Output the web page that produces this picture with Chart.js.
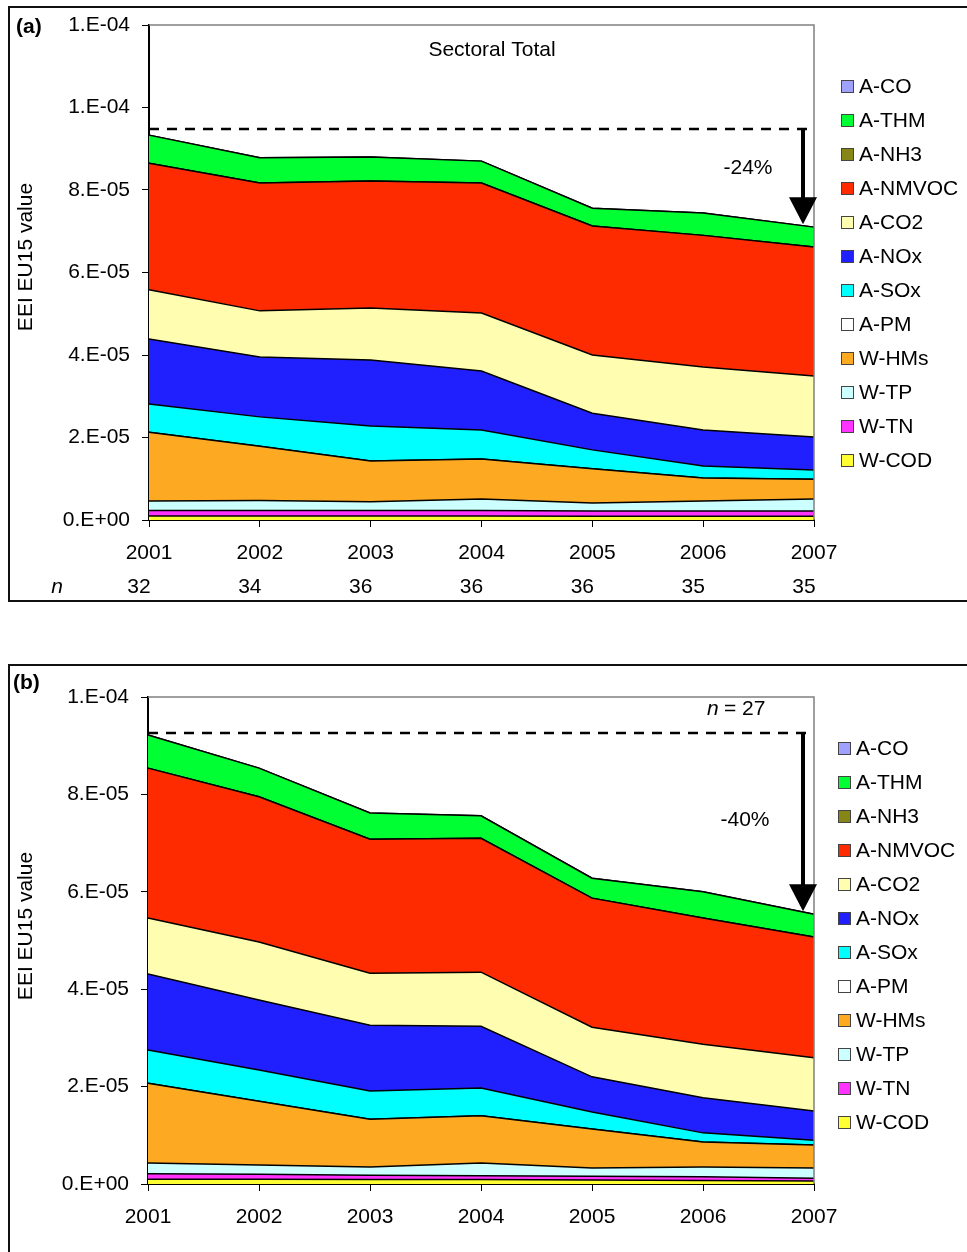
<!DOCTYPE html>
<html>
<head>
<meta charset="utf-8">
<title>EEI EU15 value by sector</title>
<script src="https://cdn.jsdelivr.net/npm/chart.js@4.4.1/dist/chart.umd.min.js"></script>
<style>
  html, body { margin: 0; padding: 0; background: #fff; }
  body { width: 967px; height: 1252px; position: relative; overflow: hidden; }
  .frame { position: absolute; left: 8px; width: 990px; box-sizing: border-box; border: 2px solid #111; border-right: none; }
  #frameA { top: 6px; height: 596px; }
  #frameB { top: 664px; height: 620px; border-bottom: none; }
  canvas { position: absolute; left: 0; }
  #chartA { top: 0; }
  #chartB { top: 640px; }
</style>
</head>
<body>
<div class="frame" id="frameA"></div>
<div class="frame" id="frameB"></div>
<canvas id="chartA" width="967" height="610"></canvas>
<canvas id="chartB" width="967" height="612"></canvas>
<script>
// ---- categories and series ----
const years = ['2001', '2002', '2003', '2004', '2005', '2006', '2007'];
const seriesNames = ['W-COD', 'W-TN', 'W-TP', 'W-HMs', 'A-PM', 'A-SOx', 'A-NOx', 'A-CO2', 'A-NMVOC', 'A-NH3', 'A-THM', 'A-CO'];
const seriesColors = ['#FFFF33', '#FF33FF', '#CCFFFF', '#FDA922', '#FFFFFF', '#00FFFF', '#2020FF', '#FFFDB0', '#FF2B00', '#868616', '#00FF33', '#A0A0FF'];

// number of installations per year, panel (a)
const sampleSizeA = [32, 34, 36, 36, 36, 35, 35];
const sampleSizeB = 27;

// Panel (a): sectoral total
const wCodA   = [0.10e-5, 0.10e-5, 0.10e-5, 0.10e-5, 0.09e-5, 0.09e-5, 0.09e-5];
const wTnA    = [0.13e-5, 0.13e-5, 0.13e-5, 0.13e-5, 0.13e-5, 0.13e-5, 0.13e-5];
const wTpA    = [0.23e-5, 0.24e-5, 0.21e-5, 0.28e-5, 0.19e-5, 0.24e-5, 0.29e-5];
const wHmsA   = [1.67e-5, 1.32e-5, 0.99e-5, 0.97e-5, 0.83e-5, 0.56e-5, 0.48e-5];
const aPmA    = [0, 0, 0, 0, 0, 0, 0];
const aSoxA   = [0.68e-5, 0.71e-5, 0.85e-5, 0.70e-5, 0.46e-5, 0.29e-5, 0.22e-5];
const aNoxA   = [1.58e-5, 1.45e-5, 1.60e-5, 1.43e-5, 0.89e-5, 0.87e-5, 0.80e-5];
const aCo2A   = [1.19e-5, 1.12e-5, 1.26e-5, 1.41e-5, 1.41e-5, 1.53e-5, 1.48e-5];
const aNmvocA = [3.07e-5, 3.10e-5, 3.08e-5, 3.15e-5, 3.13e-5, 3.19e-5, 3.13e-5];
const aNh3A   = [0, 0, 0, 0, 0, 0, 0];
const aThmA   = [0.68e-5, 0.61e-5, 0.58e-5, 0.53e-5, 0.43e-5, 0.54e-5, 0.48e-5];
const aCoA    = [0, 0, 0, 0, 0, 0, 0];

// Panel (b): constant sample of 27
const wCodB   = [0.10e-5, 0.10e-5, 0.09e-5, 0.09e-5, 0.08e-5, 0.07e-5, 0.06e-5];
const wTnB    = [0.11e-5, 0.10e-5, 0.09e-5, 0.08e-5, 0.08e-5, 0.08e-5, 0.06e-5];
const wTpB    = [0.22e-5, 0.19e-5, 0.17e-5, 0.26e-5, 0.17e-5, 0.20e-5, 0.21e-5];
const wHmsB   = [1.64e-5, 1.31e-5, 0.98e-5, 0.97e-5, 0.80e-5, 0.51e-5, 0.47e-5];
const aPmB    = [0, 0, 0, 0, 0, 0, 0];
const aSoxB   = [0.68e-5, 0.64e-5, 0.58e-5, 0.57e-5, 0.35e-5, 0.19e-5, 0.10e-5];
const aNoxB   = [1.56e-5, 1.44e-5, 1.35e-5, 1.27e-5, 0.72e-5, 0.72e-5, 0.60e-5];
const aCo2B   = [1.15e-5, 1.19e-5, 1.07e-5, 1.11e-5, 1.02e-5, 1.10e-5, 1.09e-5];
const aNmvocB = [3.08e-5, 2.98e-5, 2.75e-5, 2.75e-5, 2.65e-5, 2.59e-5, 2.48e-5];
const aNh3B   = [0, 0, 0, 0, 0, 0, 0];
const aThmB   = [0.68e-5, 0.59e-5, 0.54e-5, 0.46e-5, 0.41e-5, 0.54e-5, 0.47e-5];
const aCoB    = [0, 0, 0, 0, 0, 0, 0];

// axis ticks and reference levels
const yTicksA = [0, 2e-5, 4e-5, 6e-5, 8e-5, 1.0e-4, 1.2e-4];
const yTicksB = [0, 2e-5, 4e-5, 6e-5, 8e-5, 1.0e-4];
const baselineA = 9.48e-5;
const baselineB = 9.26e-5;
const changeLabelA = '-24%';
const changeLabelB = '-40%';

// ---- drawing ----
const FONT = '"Liberation Sans", Arial, Helvetica, sans-serif';
Chart.defaults.font.family = FONT;
Chart.defaults.color = '#000';

// Excel-style "0.E+00" number format
function sciLabel(v) {
  if (Math.abs(v) < 1e-12) return '0.E+00';
  let e = Math.floor(Math.log10(Math.abs(v)) + 1e-9);
  let m = Math.round(v / Math.pow(10, e));
  if (m >= 10) { m = 1; e += 1; }
  return m + '.E' + (e < 0 ? '-' : '+') + String(Math.abs(e)).padStart(2, '0');
}

const plotFrame = {
  id: 'plotFrame',
  afterDatasetsDraw(chart) {
    const { ctx, chartArea: a } = chart;
    ctx.save();
    ctx.strokeStyle = '#808080';
    ctx.lineWidth = 1.5;
    ctx.beginPath();
    ctx.moveTo(a.left, a.top);
    ctx.lineTo(a.right, a.top);
    ctx.lineTo(a.right, a.bottom);
    ctx.stroke();
    ctx.restore();
  }
};

function drawArrowDown(ctx, x, y0, y1) {
  const headH = 27, headW = 28;
  ctx.save();
  ctx.strokeStyle = '#000';
  ctx.fillStyle = '#000';
  ctx.lineWidth = 4;
  ctx.beginPath();
  ctx.moveTo(x, y0);
  ctx.lineTo(x, y1 - headH + 2);
  ctx.stroke();
  ctx.beginPath();
  ctx.moveTo(x - headW / 2, y1 - headH);
  ctx.lineTo(x + headW / 2, y1 - headH);
  ctx.lineTo(x, y1);
  ctx.closePath();
  ctx.fill();
  ctx.restore();
}

function buildChart(canvasId, cfg) {
  const datasets = seriesNames.map((name, i) => ({
    label: name,
    data: cfg.values[i],
    backgroundColor: seriesColors[i],
    borderColor: '#000',
    borderWidth: 1.5,
    pointRadius: 0,
    pointHoverRadius: 0,
    tension: 0,
    fill: i === 0 ? 'origin' : '-1'
  }));

  const annotations = {
    id: 'annotations',
    afterDraw(chart) {
      const { ctx, chartArea: a, scales } = chart;
      const xs = scales.x, ys = scales.y;
      ctx.save();

      // panel letter
      ctx.fillStyle = '#000';
      ctx.font = 'bold 21px ' + FONT;
      ctx.textAlign = 'left';
      ctx.textBaseline = 'middle';
      ctx.fillText(cfg.panel, cfg.panelPos[0], cfg.panelPos[1]);

      // y-axis title
      ctx.font = '21px ' + FONT;
      ctx.save();
      ctx.translate(26, cfg.titleY);
      ctx.rotate(-Math.PI / 2);
      ctx.textAlign = 'center';
      ctx.fillText('EEI EU15 value', 0, 0);
      ctx.restore();

      // baseline (dashed) and decrease arrow
      const yRef = ys.getPixelForValue(cfg.baseline);
      ctx.strokeStyle = '#000';
      ctx.lineWidth = 2.5;
      ctx.setLineDash([10, 8]);
      ctx.beginPath();
      ctx.moveTo(a.left, yRef);
      ctx.lineTo(a.right - 4, yRef);
      ctx.stroke();
      ctx.setLineDash([]);
      const last = years.length - 1;
      const total = cfg.values.reduce((s, arr) => s + arr[last], 0);
      const yEnd = ys.getPixelForValue(total) - 3;
      drawArrowDown(ctx, a.right - 11, yRef, yEnd);

      ctx.font = '21px ' + FONT;
      ctx.textAlign = 'center';
      ctx.fillText(cfg.changeLabel, cfg.changePos[0], cfg.changePos[1]);

      if (cfg.subtitle) {
        ctx.fillText(cfg.subtitle, cfg.subtitlePos[0], cfg.subtitlePos[1]);
      }

      // sample size row under the year labels
      if (cfg.nRow) {
        ctx.font = 'italic 21px ' + FONT;
        ctx.textAlign = 'center';
        ctx.fillText('n', 57, a.bottom + 67);
        ctx.font = '21px ' + FONT;
        cfg.nRow.forEach((n, i) => {
          ctx.fillText(String(n), xs.getPixelForValue(i) - 10, a.bottom + 67);
        });
      }
      if (cfg.nTotal) {
        ctx.textAlign = 'left';
        ctx.font = 'italic 21px ' + FONT;
        ctx.fillText('n', cfg.nTotalPos[0], cfg.nTotalPos[1]);
        ctx.font = '21px ' + FONT;
        ctx.fillText('= ' + cfg.nTotal, cfg.nTotalPos[0] + 17, cfg.nTotalPos[1]);
      }

      // legend, top of the stack first
      const ds = chart.data.datasets;
      ctx.textAlign = 'left';
      ctx.font = '21px ' + FONT;
      for (let k = 0; k < ds.length; k++) {
        const d = ds[ds.length - 1 - k];
        const cy = cfg.legendY + k * 34;
        ctx.fillStyle = d.backgroundColor;
        ctx.fillRect(cfg.legendX, cy - 6, 12, 12);
        ctx.strokeStyle = '#444';
        ctx.lineWidth = 1;
        ctx.strokeRect(cfg.legendX + 0.5, cy - 5.5, 12, 12);
        ctx.fillStyle = '#000';
        ctx.fillText(d.label, cfg.legendX + 18, cy + 1);
      }
      ctx.restore();
    }
  };

  return new Chart(document.getElementById(canvasId), {
    type: 'line',
    data: { labels: years, datasets },
    plugins: [plotFrame, annotations],
    options: {
      responsive: false,
      animation: false,
      events: [],
      layout: { padding: { left: 0, top: cfg.top, right: 153, bottom: cfg.bottomPad } },
      plugins: { legend: { display: false }, tooltip: { enabled: false } },
      scales: {
        x: {
          type: 'category',
          offset: false,
          grid: { display: true, drawOnChartArea: false, drawTicks: true, tickLength: 7, color: '#000', lineWidth: 1 },
          border: { display: true, color: '#000', width: 2 },
          ticks: { autoSkip: false, maxRotation: 0, minRotation: 0, padding: 14, color: '#000', font: { family: FONT, size: 21 } },
          afterFit: s => { s.height = 60; }
        },
        y: {
          stacked: true,
          min: 0,
          max: cfg.yTicks[cfg.yTicks.length - 1],
          afterBuildTicks: s => { s.ticks = cfg.yTicks.map(v => ({ value: v })); },
          grid: { display: true, drawOnChartArea: false, drawTicks: true, tickLength: 7, color: '#000', lineWidth: 1 },
          border: { display: true, color: '#000', width: 2 },
          ticks: { padding: 12, color: '#000', font: { family: FONT, size: 21 }, callback: v => sciLabel(v) },
          afterFit: s => { s.width = cfg.left; }
        }
      }
    }
  });
}

buildChart('chartA', {
  values: [wCodA, wTnA, wTpA, wHmsA, aPmA, aSoxA, aNoxA, aCo2A, aNmvocA, aNh3A, aThmA, aCoA],
  yTicks: yTicksA,
  baseline: baselineA,
  changeLabel: changeLabelA,
  changePos: [748, 168],
  subtitle: 'Sectoral Total',
  subtitlePos: [492, 50],
  nRow: sampleSizeA,
  panel: '(a)',
  panelPos: [16, 27],
  titleY: 257,
  top: 25,
  left: 149,
  bottomPad: 30,
  legendX: 841,
  legendY: 86
});

buildChart('chartB', {
  values: [wCodB, wTnB, wTpB, wHmsB, aPmB, aSoxB, aNoxB, aCo2B, aNmvocB, aNh3B, aThmB, aCoB],
  yTicks: yTicksB,
  baseline: baselineB,
  changeLabel: changeLabelB,
  changePos: [745, 180],
  nTotal: sampleSizeB,
  nTotalPos: [707, 69],
  panel: '(b)',
  panelPos: [13, 43],
  titleY: 286,
  top: 57,
  left: 148,
  bottomPad: 8,
  legendX: 838,
  legendY: 108
});
</script>
</body>
</html>
